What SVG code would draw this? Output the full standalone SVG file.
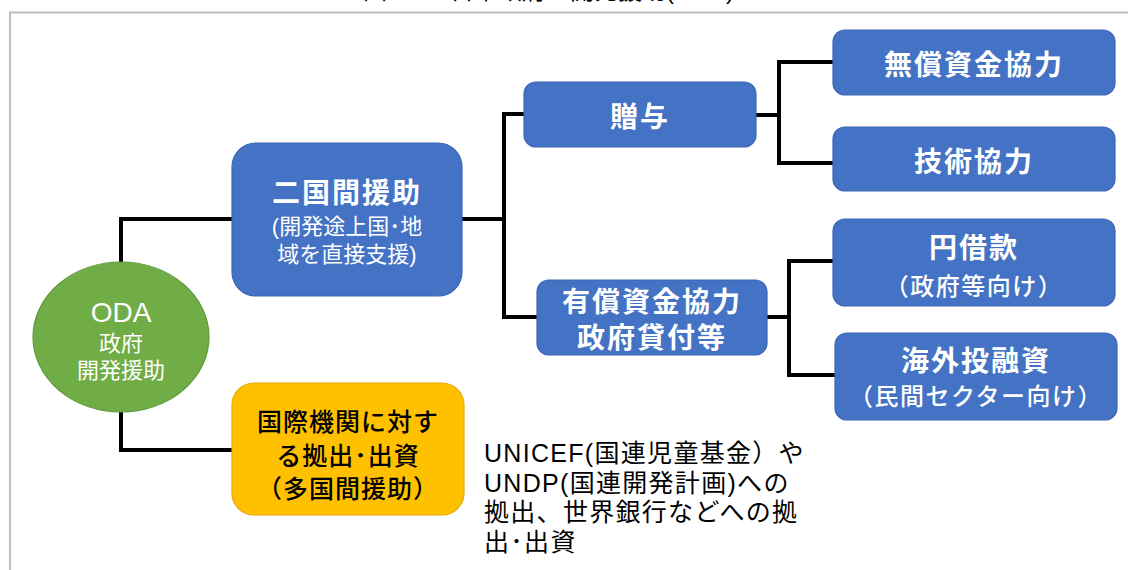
<svg xmlns="http://www.w3.org/2000/svg" width="1128" height="570" viewBox="0 0 1128 570">
<style>
  text { font-family: "Liberation Sans", "Noto Sans CJK JP", sans-serif; }
  .blue { fill: #4472C4; stroke: #3A66B5; stroke-width: 1.2; }
  .yellow { fill: #FFC000; stroke: #E3AA00; stroke-width: 1.2; }
  .green { fill: #70AD47; stroke: #5E9A3A; stroke-width: 1.2; }
  .hd { fill: #FFFFFF; font-size: 28px; font-weight: 700; text-anchor: middle; letter-spacing: 2px; }
  .sub { fill: #FFFFFF; font-size: 24px; font-weight: 500; text-anchor: middle; letter-spacing: 1.5px; }
  .wt { fill: #FFFFFF; text-anchor: middle; }
  .bk { fill: #000000; font-size: 25px; text-anchor: middle; font-weight: 500; letter-spacing: 1px; }
  .desc { fill: #000000; font-size: 25px; letter-spacing: 1.3px; }
  .conn { fill: none; stroke: #000000; stroke-width: 4; stroke-linejoin: miter; }
</style>

<g id="title">
  <text x="363" y="-1" font-size="24" fill="#000">図</text>
  <text x="450" y="-1" font-size="24" fill="#000">日本政府の開発援助(ODA)</text>
</g>

<g id="frame">
  <path d="M10,570 V12.5 H1128" fill="none" stroke="#BFBFBF" stroke-width="2"/>
</g>

<g id="connectors">
  <path class="conn" d="M121,262 V219 H232"/>
  <path class="conn" d="M121,412 V450 H232"/>
  <path class="conn" d="M462,219 H504"/>
  <path class="conn" d="M524,114 H504 V317 H537"/>
  <path class="conn" d="M756,115 H779"/>
  <path class="conn" d="M833,62 H779 V163 H833"/>
  <path class="conn" d="M767,317 H789"/>
  <path class="conn" d="M833,261 H789 V375 H835"/>
</g>

<g id="oda">
  <ellipse class="green" cx="121" cy="337" rx="88" ry="75"/>
  <text class="wt" x="121" y="322" font-size="28">ODA</text>
  <text class="wt" x="121" y="351" font-size="22">政府</text>
  <text class="wt" x="121" y="378" font-size="22">開発援助</text>
</g>

<g id="bilateral">
  <rect class="blue" x="232" y="143" width="230" height="153" rx="24"/>
  <text class="hd" x="347" y="203" font-size="30">二国間援助</text>
  <text class="wt" x="347" y="234" font-size="22">(開発途上国･地</text>
  <text class="wt" x="347" y="262" font-size="22">域を直接支援)</text>
</g>

<g id="multilateral">
  <rect class="yellow" x="232" y="383" width="232" height="132" rx="22"/>
  <text class="bk" x="348" y="431">国際機関に対す</text>
  <text class="bk" x="348" y="465">る拠出･出資</text>
  <text class="bk" x="348" y="498">（多国間援助）</text>
</g>

<g id="grant">
  <rect class="blue" x="524" y="82" width="232" height="65" rx="12"/>
  <text class="hd" x="640" y="127">贈与</text>
</g>

<g id="loan">
  <rect class="blue" x="537" y="280" width="230" height="75" rx="12"/>
  <text class="hd" x="652" y="312">有償資金協力</text>
  <text class="hd" x="652" y="348">政府貸付等</text>
</g>

<g id="grant-aid">
  <rect class="blue" x="833" y="30" width="282" height="65" rx="12"/>
  <text class="hd" x="974" y="75">無償資金協力</text>
</g>

<g id="tech">
  <rect class="blue" x="833" y="127" width="282" height="64" rx="12"/>
  <text class="hd" x="974" y="172">技術協力</text>
</g>

<g id="yen-loan">
  <rect class="blue" x="833" y="219" width="282" height="87" rx="12"/>
  <text class="hd" x="974" y="258">円借款</text>
  <text class="sub" x="974" y="295" font-size="25">（政府等向け）</text>
</g>

<g id="investment">
  <rect class="blue" x="835" y="333" width="282" height="87" rx="12"/>
  <text class="hd" x="976" y="371">海外投融資</text>
  <text class="sub" x="976" y="405">（民間セクター向け）</text>
</g>

<g id="note">
  <text class="desc" x="484" y="462">UNICEF(国連児童基金）や</text>
  <text class="desc" x="484" y="492">UNDP(国連開発計画)への</text>
  <text class="desc" x="484" y="521">拠出、世界銀行などへの拠</text>
  <text class="desc" x="484" y="551">出･出資</text>
</g>
</svg>
